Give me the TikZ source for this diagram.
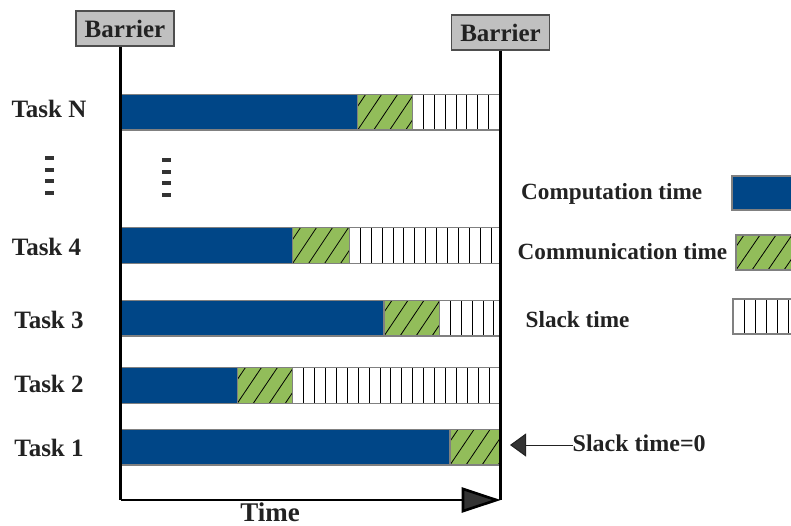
\documentclass[tikz,border=0pt]{standalone}
\usepackage{fontspec}
\setmainfont{Liberation Serif}
\usetikzlibrary{arrows.meta}
\definecolor{ink}{RGB}{34,34,34}
\definecolor{compblue}{RGB}{0,70,135}
\definecolor{commgreen}{RGB}{146,189,90}
\definecolor{barrierfill}{RGB}{192,192,192}
\definecolor{edgegray}{RGB}{128,128,128}
\definecolor{dotgray}{RGB}{51,51,51}

% one bar: #1 top, #2 bottom, #3 end of computation, #4 end of communication
\newcommand\taskbar[4]{%
  \fill[compblue] (120.7,#1) rectangle (#3,#2);
  \fill[commgreen] (#3,#1) rectangle (#4,#2);
  \begin{scope}
    \clip (#3,#1) rectangle (#4,#2);
    \foreach \k in {-3,...,6}
      \draw[hatchline] ({#3+16*\k},#2) -- ++(24,{#1-#2});
  \end{scope}
  \begin{scope}
    \clip (#4,#1) rectangle (500,#2);
    \foreach \k in {1,...,36}
      \draw[stripeline] ({#4+10.9*\k},#1) -- ({#4+10.9*\k},#2);
  \end{scope}
  \draw[baredge] (120.7,#1) rectangle (500,#2);
  \draw[baredge] (#3,#1) -- (#3,#2) (#4,#1) -- (#4,#2);
}

\begin{document}
\begin{tikzpicture}[x=1pt,y=-1pt,
  lbl/.style={font=\fontsize{25}{29}\selectfont\bfseries, text=ink, inner sep=0pt},
  legendlbl/.style={font=\fontsize{23.2}{27}\selectfont\bfseries, text=ink, inner sep=0pt},
  barrierbox/.style={draw=ink!80, line width=1.2pt, fill=barrierfill,
    minimum width=98pt, minimum height=35pt, inner sep=0pt,
    font=\fontsize{25}{29}\selectfont\bfseries, text=ink},
  barline/.style={line width=2.6pt, draw=black},
  hatchline/.style={line width=0.8pt, draw=black},
  stripeline/.style={line width=0.8pt, draw=black},
  baredge/.style={line width=1.2pt, draw=edgegray},
]
\useasboundingbox (0,0) rectangle (791,525);

% barriers
\node[barrierbox] (b1) at (125,28.5) {Barrier};
\node[barrierbox] (b2) at (500.5,32.5) {Barrier};
\coordinate (lbot) at (120.7,500);
\coordinate (rbot) at (500.7,500);

% task bars
\taskbar{94.3}{130}{357.7}{412.3}
\taskbar{227.3}{263.3}{292.7}{349.3}
\taskbar{300.3}{336}{384}{439.3}
\taskbar{367.7}{403.3}{237.3}{292.7}
\taskbar{429.5}{465}{450}{500}

% barrier lines
\draw[barline] (lbot |- b1.south) -- (lbot);
\draw[barline] (rbot |- b2.south) -- (rbot);

% time axis
\draw[line width=2.6pt, draw=black, -{Triangle[length=39pt 0,width=25pt 0,fill=dotgray]}]
  (lbot) -- (rbot);
\node[font=\fontsize{27}{30}\selectfont\bfseries, text=ink, inner sep=0pt, anchor=base]
  (time) at (270,521.5) {Time};

% task labels
\node[lbl, anchor=base] (tN) at (49,117) {Task N};
\node[lbl, anchor=base] (t4) at (46.5,255) {Task 4};
\node[lbl, anchor=base] (t3) at (49,328) {Task 3};
\node[lbl, anchor=base] (t2) at (49,392) {Task 2};
\node[lbl, anchor=base] (t1) at (49,456) {Task 1};

% vertical ellipses
\foreach \y in {156,167.5,179,190.5}
  \fill[dotgray] (45,\y) rectangle ++(9,4);
\foreach \y in {158,169.5,181,192.5}
  \fill[dotgray] (162,\y) rectangle ++(9,4);

% legend
\node[legendlbl, anchor=base west] (lcomp) at (521,199) {Computation time};
\node[legendlbl, anchor=base west] (lcomm) at (517.5,259) {Communication time};
\node[legendlbl, anchor=base west] (lslack) at (525.5,327) {Slack time};
\fill[compblue] (732,176) rectangle (800,210);
\draw[baredge] (732,176) rectangle (800,210);
\fill[commgreen] (736,235) rectangle (800,270);
\begin{scope}
  \clip (736,235) rectangle (800,270);
  \foreach \k in {-2,...,4}
    \draw[hatchline] ({736+16*\k},270) -- ++(24,-35);
\end{scope}
\draw[baredge] (736,235) rectangle (800,270);
\fill[white] (733,299) rectangle (800,334);
\foreach \k in {1,...,6}
  \draw[stripeline] ({733+11*\k},299) -- ({733+11*\k},334);
\draw[baredge] (733,299) rectangle (800,334);

% zero slack marker
\node[legendlbl, anchor=base west, font=\fontsize{24}{28}\selectfont\bfseries] (zero) at (572.5,451) {Slack time=0};
\coordinate (t1end) at (510,445);
\draw[line width=1pt, draw=ink, -{Triangle[length=16pt 0,width=23pt 0,fill=dotgray]}]
  (zero.west |- t1end) -- (t1end);
\end{tikzpicture}
\end{document}
